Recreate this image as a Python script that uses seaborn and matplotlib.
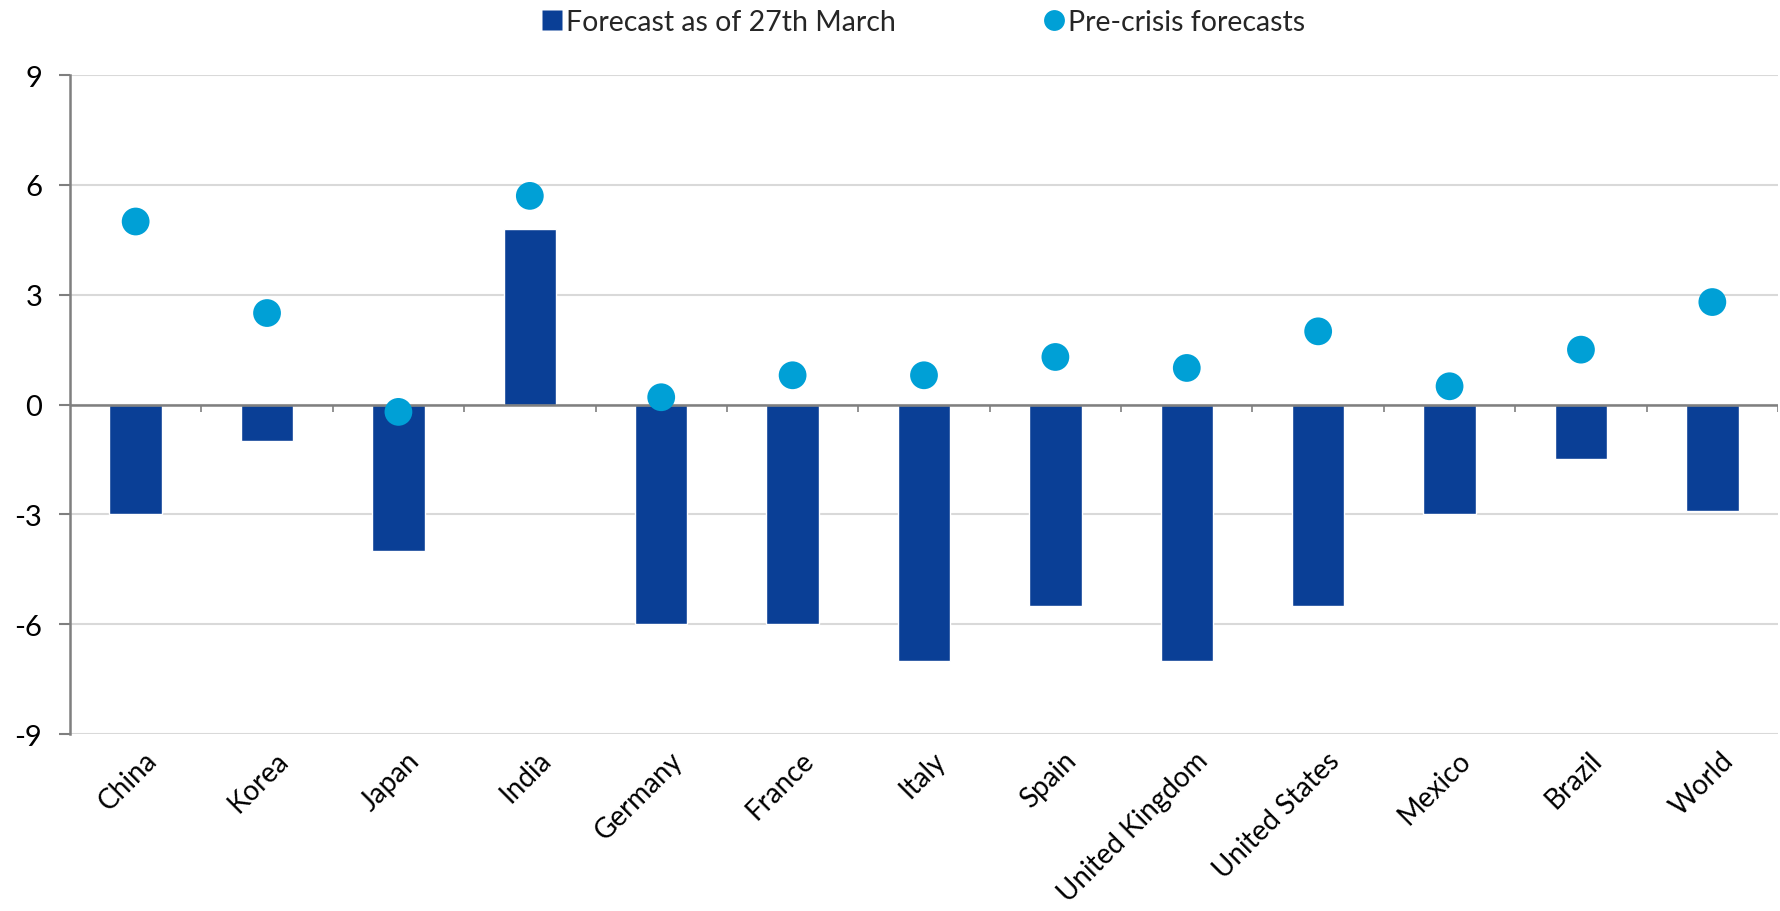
import matplotlib
matplotlib.use("Agg")
import matplotlib.pyplot as plt
import matplotlib.transforms as mtransforms
from matplotlib.lines import Line2D
import seaborn as sns
import pandas as pd

countries = ["China", "Korea", "Japan", "India", "Germany", "France", "Italy",
             "Spain", "United Kingdom", "United States", "Mexico", "Brazil", "World"]
forecast_march = [-3.0, -1.0, -4.0, 4.8, -6.0, -6.0, -7.0, -5.5, -7.0, -5.5, -3.0, -1.5, -2.9]
pre_crisis = [5.0, 2.5, -0.2, 5.7, 0.2, 0.8, 0.8, 1.3, 1.0, 2.0, 0.5, 1.5, 2.8]
y_ticks = [-9, -6, -3, 0, 3, 6, 9]

BAR_COLOR = "#0a3f96"
DOT_COLOR = "#00a0d6"
GRID_COLOR = "#d9d9d9"
AXIS_COLOR = "#7f7f7f"

sns.set_theme(style="white")
plt.rcParams["font.family"] = ["Lato", "DejaVu Sans"]

df = pd.DataFrame({"country": countries, "forecast": forecast_march, "pre": pre_crisis})

fig = plt.figure(figsize=(17.8, 9.12), dpi=100)
ax = fig.add_axes([0.0393, 0.194, 0.9596, 0.7226])

ax.set_axisbelow(True)
ax.yaxis.grid(True, color=GRID_COLOR, linewidth=1.5)

sns.barplot(data=df, x="country", y="forecast", color=BAR_COLOR, width=0.4,
            saturation=1, ax=ax, zorder=2)
sns.scatterplot(data=df, x="country", y="pre", color=DOT_COLOR, s=400,
                edgecolor="none", ax=ax, zorder=4)

# zero line with small category separators
ax.axhline(0, color=AXIS_COLOR, linewidth=1.8, zorder=3)
n = len(countries)
ax.vlines([i - 0.5 for i in range(n + 1)], -0.2, 0, color=AXIS_COLOR, linewidth=1.2, zorder=3)

ax.set_xlim(-0.5, n - 0.5)
ax.set_ylim(-9, 9)
ax.set_yticks(y_ticks)
ax.set_yticklabels([str(t) for t in y_ticks], fontsize=21, color="black")
ax.set_xlabel("")
ax.set_ylabel("")

for side in ["top", "right", "bottom"]:
    ax.spines[side].set_visible(False)
ax.spines["left"].set_color(AXIS_COLOR)
ax.spines["left"].set_linewidth(1.8)
ax.tick_params(axis="y", direction="out", length=8, width=1.5, color=AXIS_COLOR, pad=12, left=True)
ax.tick_params(axis="x", length=0, pad=9)

ax.set_xticks(range(n))
ax.set_xticklabels(countries, rotation=45, ha="right", rotation_mode="anchor",
                   fontsize=20, color="black")
shift = mtransforms.ScaledTranslation(0.08, 0, fig.dpi_scale_trans)
for lbl in ax.get_xticklabels():
    lbl.set_transform(lbl.get_transform() + shift)

handles = [
    Line2D([0], [0], marker="s", linestyle="none", markersize=15,
           markerfacecolor=BAR_COLOR, markeredgecolor="none", label="Forecast as of 27th March"),
    Line2D([0], [0], marker="o", linestyle="none", markersize=15,
           markerfacecolor=DOT_COLOR, markeredgecolor="none", label="Pre-crisis forecasts"),
]
fig.legend(handles=handles, loc="center", bbox_to_anchor=(0.519, 0.975), ncol=2,
           frameon=False, fontsize=20.5, handletextpad=0.15, columnspacing=5.2,
           handlelength=0.7)

fig.savefig("out.png", dpi=100)
